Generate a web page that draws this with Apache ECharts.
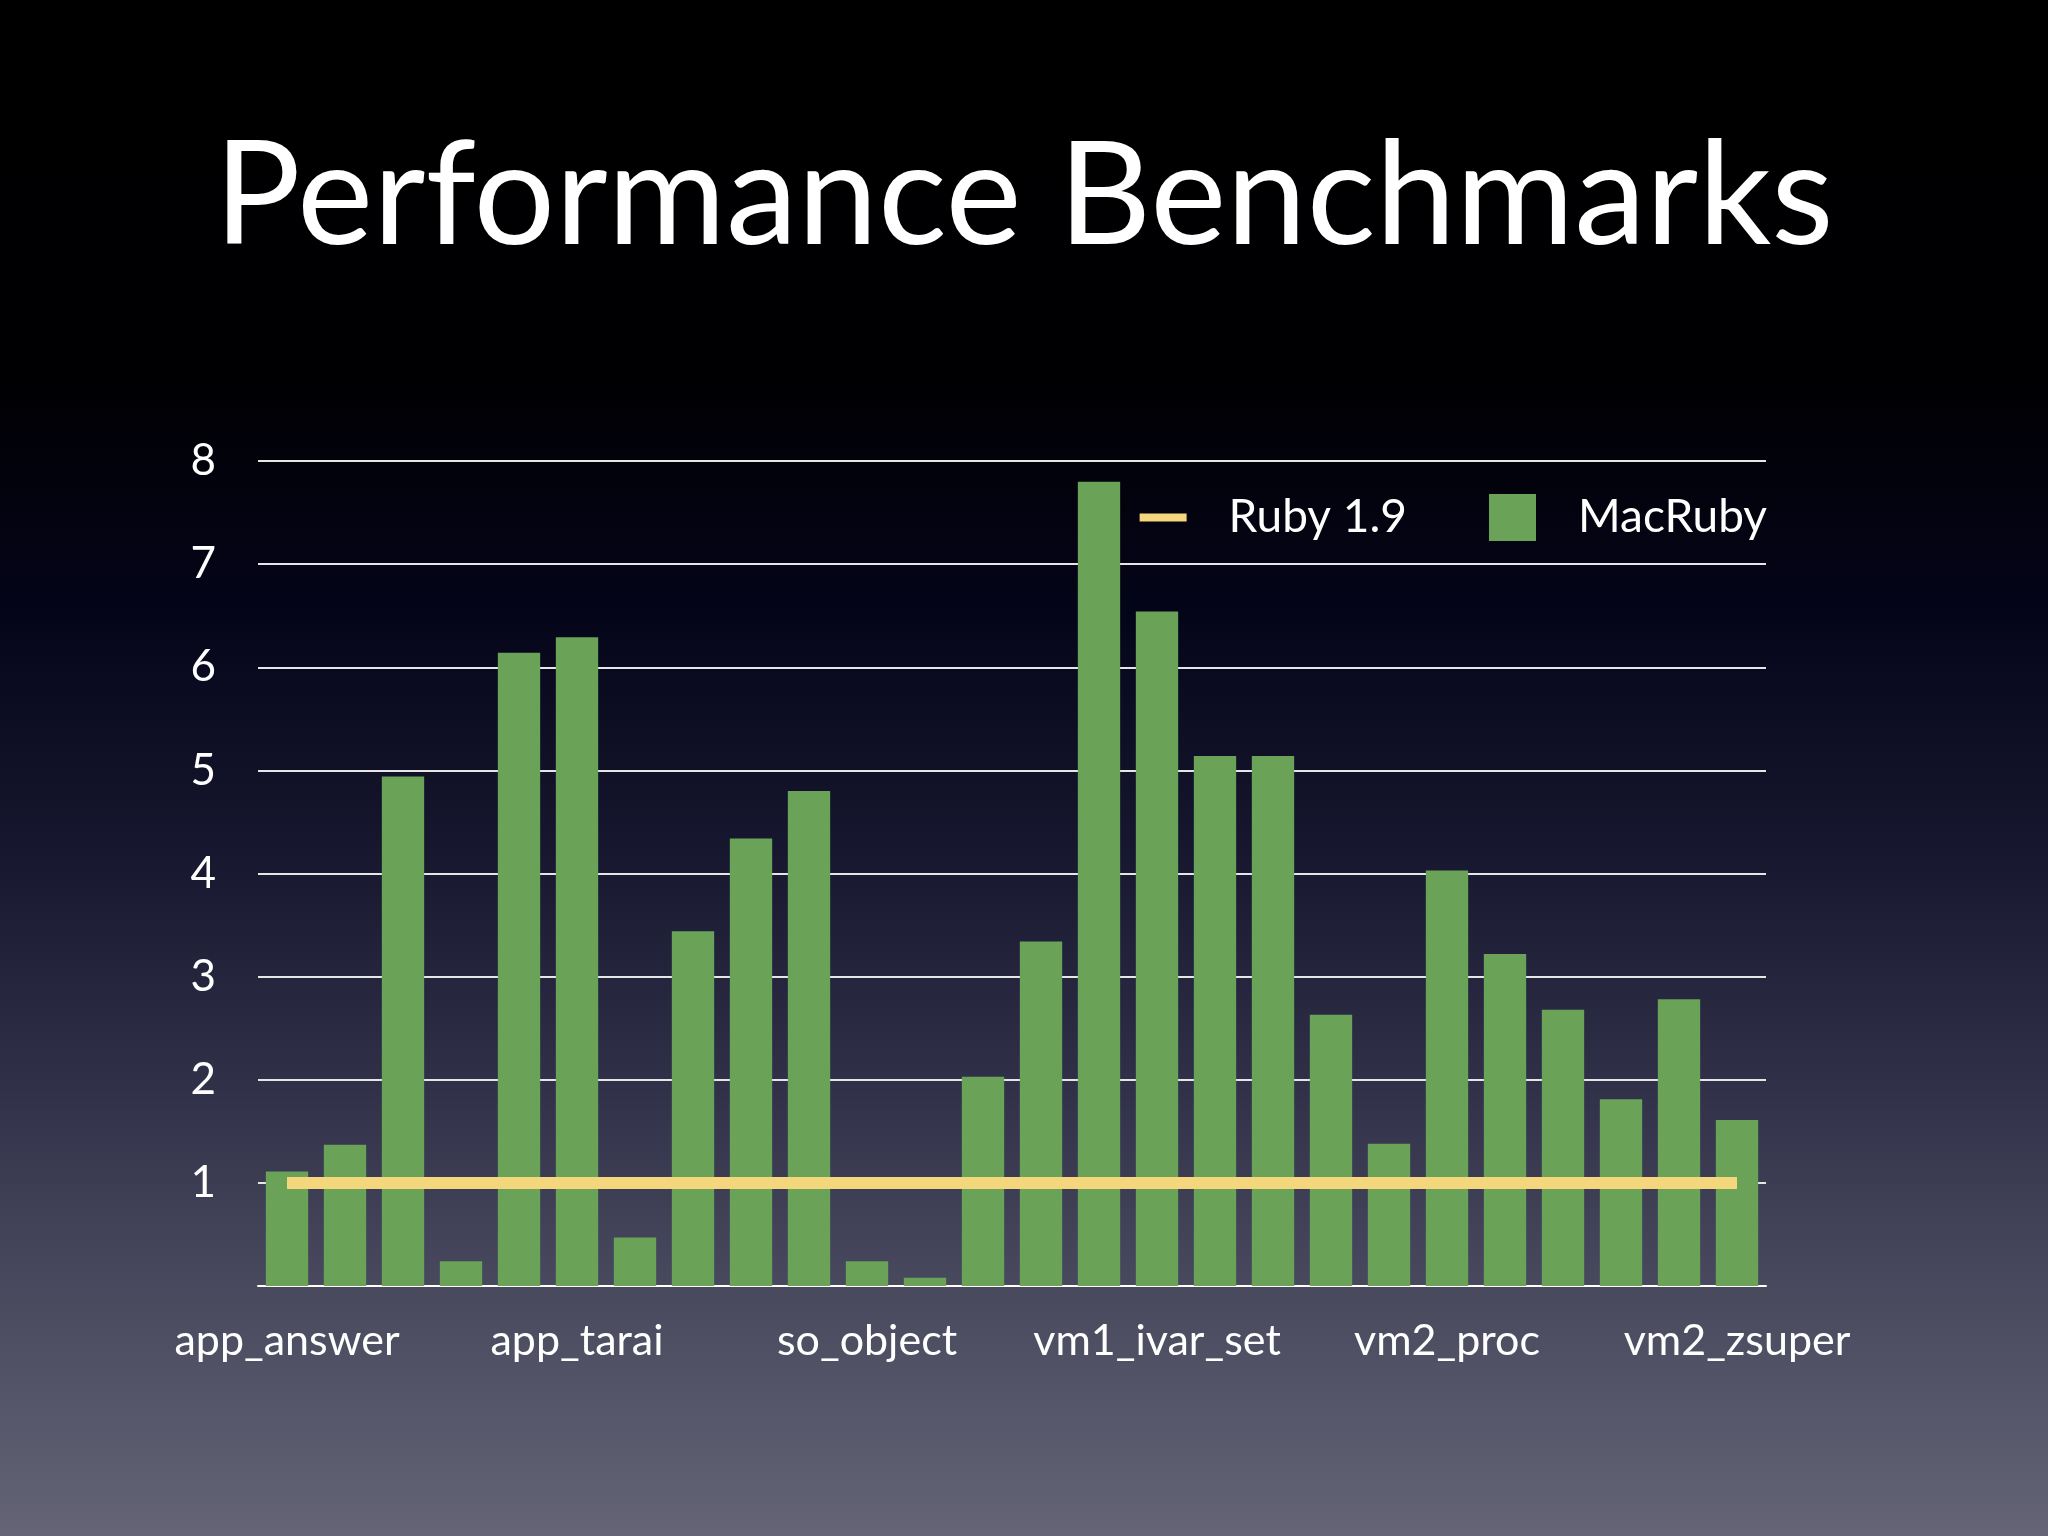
<!DOCTYPE html>
<html>
<head>
<meta charset="utf-8">
<title>Performance Benchmarks</title>
<script src="https://cdn.jsdelivr.net/npm/echarts@6/dist/echarts.min.js"></script>
<style>
  html, body { margin: 0; padding: 0; background: #000; }
  #chart { width: 2048px; height: 1536px; }
</style>
</head>
<body>
<div id="chart"></div>
<script>
// benchmark names (only every 5th one is labelled on the slide)
var categories = [
    'app_answer', 'app_factorial', 'app_fib', 'app_raise', 'app_tak',
    'app_tarai', 'so_array', 'so_concatenate', 'so_lists', 'so_matrix',
    'so_object', 'so_random', 'so_sieve', 'vm1_block', 'vm1_const',
    'vm1_ivar_set', 'vm1_length', 'vm1_rescue', 'vm1_swap', 'vm2_method',
    'vm2_proc', 'vm2_regexp', 'vm2_send', 'vm2_super', 'vm2_unif1',
    'vm2_zsuper'
];

// speed relative to Ruby 1.9
var macruby = [
    1.11, 1.37, 4.94, 0.24, 6.14,
    6.29, 0.47, 3.44, 4.34, 4.80,
    0.24, 0.08, 2.03, 3.34, 7.80,
    6.54, 5.14, 5.14, 2.63, 1.38,
    4.03, 3.22, 2.68, 1.81, 2.78,
    1.61
];

// baseline
var ruby19 = categories.map(function () { return 1; });

var yTicks = ['', '1', '2', '3', '4', '5', '6', '7', '8'];

var font = 'Lato';

var myChart = echarts.init(document.getElementById('chart'));
myChart.setOption({
    backgroundColor: {
        type: 'linear', x: 0, y: 0, x2: 0, y2: 1,
        colorStops: [
            { offset: 0, color: '#000000' },
            { offset: 0.25, color: '#000003' },
            { offset: 0.4, color: '#05051a' },
            { offset: 0.55, color: '#16162e' },
            { offset: 0.7, color: '#2f2f48' },
            { offset: 0.85, color: '#4b4b60' },
            { offset: 1, color: '#646476' }
        ]
    },
    title: {
        text: 'Performance Benchmarks',
        left: 'center',
        top: 121,
        textStyle: {
            color: '#ffffff',
            fontFamily: font,
            fontWeight: 'normal',
            fontSize: 144
        }
    },
    legend: {
        right: 276,
        top: 489,
        itemWidth: 47,
        itemHeight: 47,
        itemGap: 82,
        textStyle: {
            color: '#ffffff',
            fontFamily: font,
            fontSize: 46,
            padding: [0, 0, 0, 37]
        },
        data: [
            { name: 'Ruby 1.9', icon: 'path://M0,0h47v8h-47z' },
            { name: 'MacRuby', icon: 'rect' }
        ]
    },
    grid: {
        left: 258,
        right: 282,
        top: 461,
        bottom: 250
    },
    xAxis: {
        type: 'category',
        data: categories,
        axisLine: { lineStyle: { color: '#ffffff', width: 2 } },
        axisTick: { show: false },
        axisLabel: {
            interval: 4,
            color: '#ffffff',
            fontFamily: font,
            fontSize: 43,
            margin: 34
        }
    },
    yAxis: {
        type: 'value',
        min: 0,
        max: 8,
        interval: 1,
        axisLine: { show: false },
        axisTick: { show: false },
        splitLine: { lineStyle: { color: '#e6e6e6', width: 2 } },
        axisLabel: {
            color: '#ffffff',
            fontFamily: font,
            fontSize: 44,
            margin: 42,
            formatter: function (v) { return yTicks[v]; }
        }
    },
    series: [
        {
            name: 'MacRuby',
            type: 'bar',
            data: macruby,
            barCategoryGap: '27%',
            itemStyle: { color: '#6aa358' }
        },
        {
            name: 'Ruby 1.9',
            type: 'line',
            data: ruby19,
            symbol: 'none',
            z: 5,
            itemStyle: { color: '#f4d77c' },
            lineStyle: { color: '#f4d77c', width: 12, cap: 'butt' }
        }
    ]
});
</script>
</body>
</html>
